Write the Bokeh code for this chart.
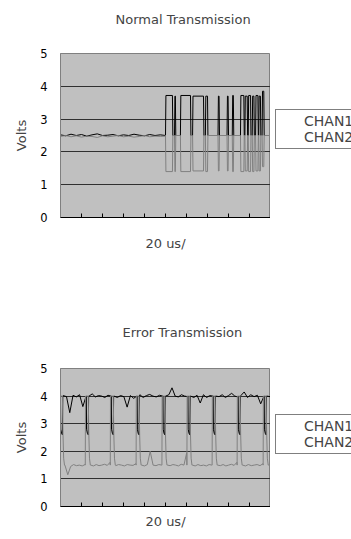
import numpy as np
from bokeh.plotting import figure
from bokeh.models import Range1d, FixedTicker, Legend, LegendItem, CustomJSTickFormatter
from bokeh.layouts import column, row
from bokeh.embed import file_html
from bokeh.resources import INLINE

# ---------------- data ----------------
titles = ["Normal Transmission", "Error Transmission"]
x_label = "20 us/"
y_label = "Volts"
series_names = ["CHAN1", "CHAN2"]
series_colors = ["#000000", "#808080"]
y_ticks = [0, 1, 2, 3, 4, 5]
x_ticks = [0, 1, 2, 3, 4, 5, 6, 7, 8, 9, 10]

# Normal transmission (time in scope divisions)
normal_idle_end = 5.0
normal_idle_chan1 = [2.52, 2.49, 2.54, 2.50, 2.53, 2.48, 2.52, 2.55, 2.50, 2.51, 2.53,
                     2.49, 2.52, 2.50, 2.54, 2.51, 2.49, 2.53, 2.50, 2.52, 2.50]
normal_idle_chan2 = [2.47, 2.50, 2.46, 2.49, 2.45, 2.48, 2.47, 2.44, 2.49, 2.46, 2.48,
                     2.50, 2.46, 2.48, 2.45, 2.47, 2.50, 2.46, 2.48, 2.47, 2.48]
normal_dom_start = [5.00, 5.43, 5.71, 6.29, 6.90, 7.50, 7.93, 8.18, 8.57, 8.78, 8.94, 9.13, 9.29, 9.44, 9.60]
normal_dom_end = [5.33, 5.47, 6.19, 6.81, 7.00, 7.55, 7.98, 8.23, 8.73, 8.89, 9.05, 9.21, 9.40, 9.52, 9.68]
normal_chan1_high = [3.72, 3.70, 3.72, 3.70, 3.70, 3.70, 3.70, 3.72, 3.72, 3.70, 3.72, 3.70, 3.72, 3.70, 3.85]
normal_chan2_low = [1.40, 1.40, 1.40, 1.42, 1.40, 1.42, 1.42, 1.40, 1.40, 1.42, 1.40, 1.40, 1.42, 1.42, 1.55]
normal_recessive = 2.5

# Error transmission
error_edges = [0.10, 1.33, 2.52, 3.75, 4.98, 6.17, 7.37, 8.56, 9.80]
error_chan1_plateaus = [
    [4.02, 3.98, 3.40, 4.03, 3.97, 4.05, 3.62, 4.00],
    [4.00, 4.08, 3.97, 4.02, 4.00, 3.95, 4.03, 4.00],
    [4.00, 3.95, 4.02, 3.98, 3.60, 4.02, 3.92, 4.00],
    [4.05, 3.95, 4.02, 4.06, 4.00, 3.97, 4.03, 4.00],
    [4.00, 4.05, 4.30, 4.00, 3.97, 4.05, 4.00, 3.98],
    [4.00, 3.95, 4.03, 3.75, 4.05, 3.95, 4.02, 4.00],
    [4.00, 3.98, 4.05, 3.95, 4.02, 4.10, 4.00, 3.97],
    [4.02, 4.15, 3.95, 4.05, 3.98, 4.03, 3.72, 4.00],
    [4.00, 3.98],
]
error_chan2_plateaus = [
    [1.50, 1.15, 1.45, 1.52, 1.48, 1.50, 1.47, 1.52],
    [1.50, 1.47, 1.52, 1.48, 1.50, 1.53, 1.49, 1.60],
    [1.48, 1.52, 1.50, 1.47, 1.52, 1.50, 1.49, 1.55],
    [1.50, 1.47, 1.52, 2.00, 1.50, 1.48, 1.52, 1.50],
    [1.50, 1.48, 1.52, 1.50, 1.47, 1.53, 1.50, 1.95],
    [1.50, 1.47, 1.52, 1.48, 1.50, 1.47, 1.52, 1.50],
    [1.50, 1.48, 1.52, 1.47, 1.50, 1.53, 1.49, 1.60],
    [1.50, 1.47, 1.52, 1.48, 1.50, 1.52, 1.48, 1.55],
    [1.50, 1.50],
]
error_chan1_dip = [2.80, 2.65, 2.60]
error_chan2_high = 4.0

# ---------------- build traces ----------------
def normal_trace(idle, levels):
    xs = list(np.linspace(0, normal_idle_end, len(idle)))
    ys = list(idle)
    for s, e, lv in zip(normal_dom_start, normal_dom_end, levels):
        xs += [s, s + 0.02, e, e + 0.02]
        ys += [normal_recessive, lv, lv, normal_recessive]
    xs += [10.0]
    ys += [normal_recessive]
    return xs, ys


def error_chan1():
    xs, ys = [0.0], [error_chan1_plateaus[0][0]]
    for i, b in enumerate(error_edges):
        xs += [b - 0.10, b - 0.09, b - 0.05, b - 0.01, b + 0.01]
        ys += [4.0, error_chan1_dip[0], error_chan1_dip[1], error_chan1_dip[2], 4.0]
        nxt = error_edges[i + 1] - 0.10 if i + 1 < len(error_edges) else 10.0
        pl = error_chan1_plateaus[i]
        xs += list(np.linspace(b + 0.03, nxt - 0.01, len(pl)))
        ys += pl
    return xs, ys


def error_chan2():
    xs, ys = [], []
    for i, b in enumerate(error_edges):
        xs += [b - 0.15, b - 0.14, b - 0.01, b + 0.02, b + 0.05, b + 0.09]
        ys += [1.5, error_chan2_high, error_chan2_high, 2.6, 1.75, 1.5]
        nxt = error_edges[i + 1] - 0.15 if i + 1 < len(error_edges) else 10.0
        pl = error_chan2_plateaus[i]
        xs += list(np.linspace(b + 0.11, nxt - 0.01, len(pl)))
        ys += pl
    return xs, ys


FONT = "DejaVu Sans"
W_MAIN = 270
W_LEG = 81


def make_fig(title, title_offset, title_standoff, title_valign, traces, H, top, bottom, xlab_standoff):
    p = figure(width=W_MAIN, height=H, output_backend="svg", toolbar_location=None,
               x_range=Range1d(0, 10), y_range=Range1d(0, 5),
               min_border_left=60, min_border_right=0,
               min_border_top=top, min_border_bottom=bottom)
    p.background_fill_color = "#c0c0c0"
    p.border_fill_color = "white"
    p.outline_line_color = "#808080"
    p.xgrid.visible = False
    p.ygrid.ticker = FixedTicker(ticks=[1, 2, 3, 4])
    p.ygrid.grid_line_color = "#303030"
    p.ygrid.grid_line_width = 1

    p.title.text = title
    p.title.align = "left"
    p.title.vertical_align = title_valign
    p.title.offset = title_offset
    p.title.standoff = title_standoff
    p.title.text_font = FONT
    p.title.text_font_size = "13px"
    p.title.text_font_style = "normal"

    p.yaxis.ticker = FixedTicker(ticks=y_ticks)
    p.yaxis.major_tick_out = 0
    p.yaxis.major_tick_in = 0
    p.yaxis.minor_tick_line_color = None
    p.yaxis.axis_line_color = "#808080"
    p.yaxis.major_label_standoff = 13
    p.yaxis.major_label_text_font = FONT
    p.yaxis.major_label_text_font_size = "11.5px"
    p.yaxis.major_label_text_color = "black"
    p.yaxis.axis_label = y_label
    p.yaxis.axis_label_text_font = FONT
    p.yaxis.axis_label_text_font_size = "13px"
    p.yaxis.axis_label_text_font_style = "normal"
    p.yaxis.axis_label_standoff = 8

    p.xaxis.ticker = FixedTicker(ticks=x_ticks)
    p.xaxis.formatter = CustomJSTickFormatter(code="return ''")
    p.xaxis.major_label_text_font_size = "1px"
    p.xaxis.major_tick_out = 0
    p.xaxis.major_tick_in = 4
    p.xaxis.major_tick_line_color = "black"
    p.xaxis.minor_tick_line_color = None
    p.xaxis.axis_line_color = "black"
    p.xaxis.major_label_standoff = 0
    p.xaxis.axis_label = x_label
    p.xaxis.axis_label_text_font = FONT
    p.xaxis.axis_label_text_font_size = "13px"
    p.xaxis.axis_label_text_font_style = "normal"
    p.xaxis.axis_label_standoff = xlab_standoff

    for (xs, ys), c in zip(traces, series_colors):
        p.line(xs, ys, line_color=c, line_width=1)
    return p


def make_legend_fig(H, legend_y):
    q = figure(width=W_LEG, height=H, output_backend="svg", toolbar_location=None,
               x_range=Range1d(0, 1), y_range=Range1d(0, 1),
               x_axis_location=None, y_axis_location=None,
               min_border_left=0, min_border_right=0, min_border_top=0, min_border_bottom=0)
    q.grid.visible = False
    q.outline_line_color = None
    q.background_fill_color = "white"
    q.border_fill_color = "white"
    rs = [q.line(x=[], y=[], line_color=c, line_width=1) for c in series_colors]
    items = [LegendItem(label=n, renderers=[r]) for n, r in zip(series_names, rs)]
    leg = Legend(items=items, location=(5, legend_y))
    leg.border_line_color = "black"
    leg.border_line_width = 1
    leg.background_fill_color = "white"
    leg.background_fill_alpha = 1
    leg.padding = 3
    leg.spacing = 0
    leg.margin = 0
    leg.label_text_font = FONT
    leg.label_text_font_size = "14px"
    leg.label_height = 14
    leg.glyph_height = 14
    leg.glyph_width = 18
    leg.label_standoff = 7
    q.add_layout(leg)
    return q


c1n = normal_trace(normal_idle_chan1, normal_chan1_high)
c2n = normal_trace(normal_idle_chan2, normal_chan2_low)
H1, H2 = 270, 269
# first title gets a trailing blank line so it can sit high above the frame
p1 = make_fig(titles[0] + "\n", 55, 20, "top", [c1n, c2n], H1, 53, 53, 18)
p2 = make_fig(titles[1], 62, 57, "bottom", [error_chan1(), error_chan2()], H2, 98, 33, 7)
l1 = make_legend_fig(H1, 68)
l2 = make_legend_fig(H2, 52)

layout = column(row(p1, l1, spacing=0), row(p2, l2, spacing=0), spacing=0)
open("out.html", "w").write(file_html(layout, INLINE))
